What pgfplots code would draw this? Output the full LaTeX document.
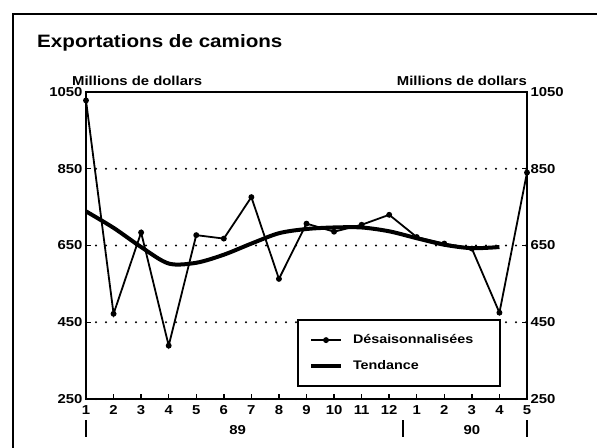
\documentclass[border=0pt]{standalone}
\usepackage{fontspec}
\setmainfont[FakeStretch=1.15]{Liberation Sans}
\usepackage{pgfplots}
\pgfplotsset{compat=1.18}
\pgfplotsset{
  desleg/.style={legend image code/.code={\draw[mark repeat=2,mark phase=2,##1] plot coordinates {(0bp,0bp) (15bp,0bp) (30bp,0bp)};}},
  tendleg/.style={legend image code/.code={\draw[##1] (0bp,0bp) -- (30bp,0bp);}},
}
\pgfplotstableread{
x y
1 1028
2 472
3 684
4 389
5 677
6 668
7 776
8 563
9 707
10 686
11 704
12 730
13 672
14 655
15 642
16 475
17 840
}\desais
\pgfplotstableread{
x y
1 739
2 696
3 646
4 603
5 605
6 626
7 655
8 682
9 693
10 697
11 697
12 687
13 669
14 652
15 643
16 646
}\tendance
\begin{document}
\bfseries
\begin{tikzpicture}
\useasboundingbox (0bp,0bp) rectangle (597bp,448bp);
\draw[line width=1.5bp] (13bp,0bp) -- (13bp,434bp) -- (597bp,434bp);
\node[anchor=base west, inner sep=0pt, font=\fontsize{18}{21}\selectfont\bfseries] at (37bp,400bp) {Exportations de camions};
\node[anchor=base west, inner sep=0pt, font=\fontsize{13}{15}\selectfont\bfseries] at (72bp,362bp) {Millions de dollars};
\node[anchor=base east, inner sep=0pt, font=\fontsize{13}{15}\selectfont\bfseries] at (527bp,362bp) {Millions de dollars};
\begin{axis}[at={(86bp,49bp)}, anchor=south west, scale only axis,
  width=441bp, height=307bp,
  xmin=1, xmax=17, ymin=250, ymax=1050,
  axis line style={line width=1.6bp},
  xtick={1,...,17},
  xticklabels={1,2,3,4,5,6,7,8,9,10,11,12,1,2,3,4,5},
  ytick={250,450,650,850,1050},
  yticklabels={250,450,650,850,1050},
  tick align=inside, major tick length=5bp,
  tick style={line width=1.4bp, black},
  xtick pos=bottom, ytick pos=left,
  ticklabel style={font=\fontsize{13}{15}\selectfont\bfseries},
  xticklabel style={yshift=-3bp},
  yticklabel style={xshift=0bp},
  ymajorgrids=true,
  major grid style={line width=2.2bp, line cap=round, dash pattern=on 0bp off 10bp, black},
  clip=false,
  legend style={at={(0.479,0.04)}, anchor=south west, draw=black, line width=1.6bp, fill=white,
    font=\fontsize{12.5}{14}\selectfont\bfseries, inner xsep=11bp, inner ysep=13bp, row sep=11bp},
  legend cell align=left,
]
\addplot[black, line width=1.8bp, mark=*, mark size=2bp, desleg]
  table[x=x,y=y] {\desais};
\addlegendentry{\makebox[142bp][l]{\hspace{8bp}Désaisonnalisées}}
\addplot[black, line width=4bp, smooth, tension=0.5, tendleg]
  table[x=x,y=y] {\tendance};
\addlegendentry{\makebox[142bp][l]{\hspace{8bp}Tendance}}
\draw[line width=1.6bp] ([yshift=-21bp]axis cs:1,250) -- ([yshift=-38bp]axis cs:1,250);
\draw[line width=1.6bp] ([yshift=-21bp]axis cs:12.5,250) -- ([yshift=-38bp]axis cs:12.5,250);
\draw[line width=1.6bp] ([yshift=-21bp]axis cs:17,250) -- ([yshift=-38bp]axis cs:17,250);
\node[font=\fontsize{13}{15}\selectfont\bfseries] at ([yshift=-31bp]axis cs:6.5,250) {89};
\node[font=\fontsize{13}{15}\selectfont\bfseries] at ([yshift=-31bp]axis cs:15,250) {90};
\end{axis}
\begin{axis}[at={(86bp,49bp)}, anchor=south west, scale only axis,
  width=441bp, height=307bp,
  xmin=1, xmax=17, ymin=250, ymax=1050,
  axis x line=none, axis y line*=right,
  axis line style={line width=1.6bp, -},
  ytick={250,450,650,850,1050},
  yticklabels={250,450,650,850,1050},
  tick align=inside, major tick length=5bp,
  tick style={line width=1.4bp, black},
  ticklabel style={font=\fontsize{13}{15}\selectfont\bfseries},
]
\end{axis}
\end{tikzpicture}
\end{document}
